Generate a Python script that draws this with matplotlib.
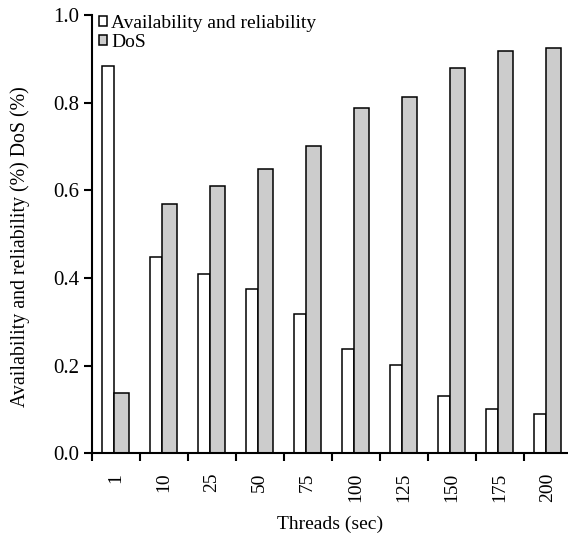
import matplotlib.pyplot as plt
import numpy as np

plt.rcParams['font.family'] = ['Liberation Serif', 'DejaVu Serif']

threads = ['1', '10', '25', '50', '75', '100', '125', '150', '175', '200']
availability = [0.883, 0.449, 0.409, 0.374, 0.318, 0.237, 0.202, 0.131, 0.101, 0.090]
dos = [0.138, 0.569, 0.609, 0.649, 0.702, 0.788, 0.814, 0.880, 0.917, 0.925]

fig = plt.figure(figsize=(5.68, 5.40), dpi=100)
ax = fig.add_axes([91.7 / 568, 86.7 / 540, 476.3 / 568, 438.3 / 540])

x = np.arange(len(threads))

# white bar sits left of centre, grey one right of it
ax.bar(x - 0.29, availability, width=0.255, align='edge',
       color='white', edgecolor='black', linewidth=1.1,
       label='Availability and reliability')
ax.bar(x - 0.035, dos, width=0.315, align='edge',
       color='#cccccc', edgecolor='black', linewidth=1.1, label='DoS')

ax.set_xlim(-0.5, -0.5 + 476.3 / 48)
ax.set_ylim(0, 1.0)

for s in ['top', 'right']:
    ax.spines[s].set_visible(False)
for s in ['left', 'bottom']:
    ax.spines[s].set_linewidth(1.5)

ax.set_yticks([0, 0.2, 0.4, 0.6, 0.8, 1.0])
ax.set_yticklabels(['0.0', '0.2', '0.4', '0.6', '0.8', '1.0'])
ax.tick_params(axis='y', direction='out', length=6, width=1.5, labelsize=15, pad=3)

ax.set_xticks(x)
ax.set_xticklabels(threads, rotation=90)
ax.set_xticks(x - 0.5, minor=True)
ax.tick_params(axis='x', which='major', length=0, labelsize=14, pad=14)
ax.tick_params(axis='x', which='minor', direction='out', length=5.5, width=1.5)

ax.set_xlabel('Threads (sec)', fontsize=14, labelpad=10)
ax.set_ylabel('Availability and reliability (%) DoS (%)', fontsize=14.3)
ax.yaxis.set_label_coords(-0.13, 0.471)

ax.legend(loc='upper left', bbox_to_anchor=(0.004, 1.013), frameon=False,
          fontsize=14, handlelength=0.4, handleheight=0.4, borderpad=0,
          handletextpad=0.2, labelspacing=0.1, borderaxespad=0.3)

fig.savefig('out.png', dpi=100)
